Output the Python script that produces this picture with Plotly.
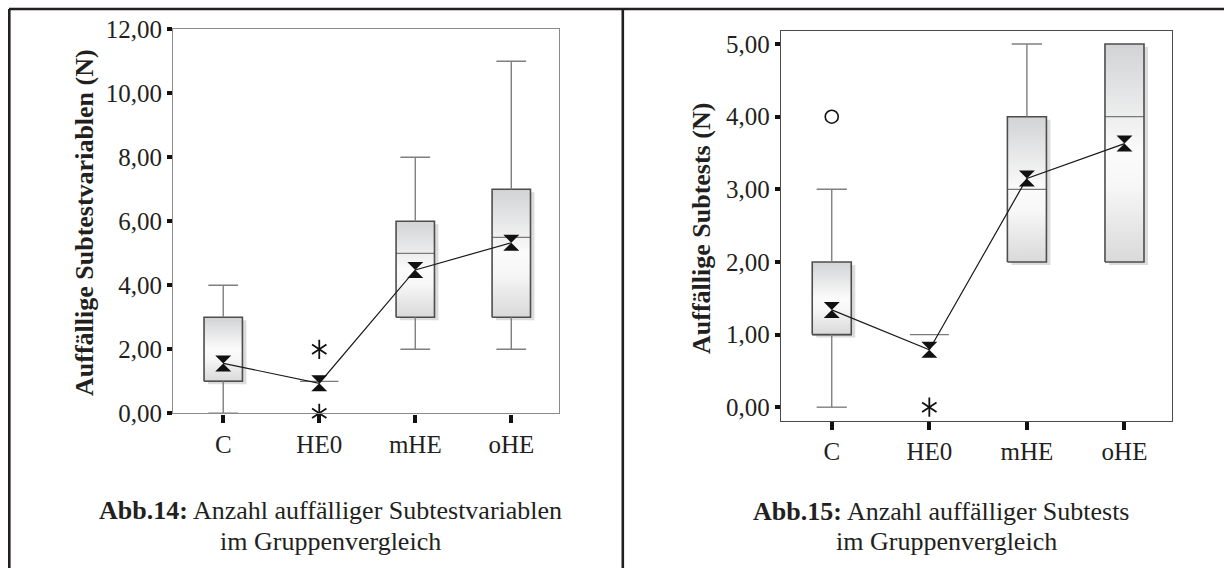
import plotly.graph_objects as go

# ---------------- data ----------------
categories = ["C", "HE0", "mHE", "oHE"]

# Abb.14: Anzahl auffälliger Subtestvariablen
l_q1 = [1, 1, 3, 3]
l_median = [1, 1, 5, 5.5]
l_q3 = [3, 1, 6, 7]
l_low = [0, 1, 2, 2]
l_high = [4, 1, 8, 11]
l_mean = [1.56, 0.94, 4.48, 5.33]
l_extreme_x = [1, 1]
l_extreme_y = [2, 0]

# Abb.15: Anzahl auffälliger Subtests
r_q1 = [1, 1, 2, 2]
r_median = [1, 1, 3, 4]
r_q3 = [2, 1, 4, 5]
r_low = [0, 1, 2, 2]
r_high = [3, 1, 5, 5]
r_mean = [1.34, 0.79, 3.15, 3.63]
r_outlier_x = [0]
r_outlier_y = [4]
r_extreme_x = [1]
r_extreme_y = [0]

l_yticks = [0, 2, 4, 6, 8, 10, 12]
r_yticks = [0, 1, 2, 3, 4, 5]

# ---------------- style ----------------
W, H = 1224, 568
FONT = "Liberation Serif"
TXT = "#231f20"
BOX_HALF = 0.2
CAP_HALF = 0.155

fig = go.Figure()

L = dict(dom_x=(173.3 / W, 559.3 / W), dom_y=(1 - 413.3 / H, 1 - 29.3 / H),
         xr=[-0.52, 3.5], yr=[0, 12], frame="#8a8a8a")
R = dict(dom_x=(781 / W, 1172.3 / W), dom_y=(1 - 421 / H, 1 - 31 / H),
         xr=[-0.52, 3.49], yr=[-0.19, 5.18], frame="#4a4a4a")

grad = [[0, "#d9d9da"], [0.35, "#f7f7f7"], [0.5, "#fbfbfb"], [1, "#d2d3d5"]]


def add_panel(xa, ya, spec, q1, med, q3, low, high, mean):
    # pixel-based shadow offsets converted to data units
    px_x = (spec["dom_x"][1] - spec["dom_x"][0]) * W / (spec["xr"][1] - spec["xr"][0])
    px_y = (spec["dom_y"][1] - spec["dom_y"][0]) * H / (spec["yr"][1] - spec["yr"][0])
    dx, dy = 4 / px_x, 3 / px_y
    common = dict(xaxis=xa, yaxis=ya, showlegend=False, hoverinfo="skip", cliponaxis=False)
    for i in range(len(categories)):
        a, b = i - BOX_HALF, i + BOX_HALF
        if q3[i] > q1[i]:
            # shadow
            fig.add_trace(go.Scatter(
                x=[a + dx, b + dx, b + dx, a + dx, a + dx],
                y=[q1[i] - dy, q1[i] - dy, q3[i] - dy, q3[i] - dy, q1[i] - dy],
                mode="lines", fill="toself", fillcolor="#dcdcdc",
                line=dict(width=0), **common))
            # gradient box
            fig.add_trace(go.Scatter(
                x=[a, b, b, a, a], y=[q1[i], q1[i], q3[i], q3[i], q1[i]],
                mode="lines", fill="toself",
                fillgradient=dict(type="vertical", colorscale=grad),
                line=dict(width=0), **common))
            # median
            fig.add_trace(go.Scatter(
                x=[a, b], y=[med[i], med[i]], mode="lines",
                line=dict(color="#7a7a7a", width=1.2), **common))
            # outline
            fig.add_trace(go.Scatter(
                x=[a, b, b, a, a], y=[q1[i], q1[i], q3[i], q3[i], q1[i]],
                mode="lines", line=dict(color="#4d4d4d", width=1.6), **common))
        else:
            fig.add_trace(go.Scatter(
                x=[a, b], y=[q1[i], q1[i]], mode="lines",
                line=dict(color="#7a7a7a", width=1.3), **common))
        # whiskers + caps
        if high[i] > q3[i]:
            fig.add_trace(go.Scatter(
                x=[i, i, None, i - CAP_HALF, i + CAP_HALF],
                y=[q3[i], high[i], None, high[i], high[i]],
                mode="lines", line=dict(color="#7f7f7f", width=1.4), **common))
        if low[i] < q1[i]:
            fig.add_trace(go.Scatter(
                x=[i, i, None, i - CAP_HALF, i + CAP_HALF],
                y=[q1[i], low[i], None, low[i], low[i]],
                mode="lines", line=dict(color="#7f7f7f", width=1.4), **common))
    # means
    fig.add_trace(go.Scatter(
        x=list(range(len(categories))), y=mean, mode="lines+markers",
        line=dict(color="#1a1a1a", width=1.2),
        marker=dict(symbol="hourglass", size=16, color="#111111",
                    line=dict(width=0)),
        **common))


def add_asterisks(xa, ya, xs, ys):
    for sym in ["y-up-open", "y-down-open"]:
        fig.add_trace(go.Scatter(
            x=xs, y=ys, mode="markers", xaxis=xa, yaxis=ya, showlegend=False,
            hoverinfo="skip", cliponaxis=False,
            marker=dict(symbol=sym, size=12, color="#111111",
                        line=dict(color="#111111", width=1.8))))


add_panel("x", "y", L, l_q1, l_median, l_q3, l_low, l_high, l_mean)
add_asterisks("x", "y", l_extreme_x, l_extreme_y)

add_panel("x2", "y2", R, r_q1, r_median, r_q3, r_low, r_high, r_mean)
add_asterisks("x2", "y2", r_extreme_x, r_extreme_y)
fig.add_trace(go.Scatter(
    x=r_outlier_x, y=r_outlier_y, mode="markers", xaxis="x2", yaxis="y2",
    showlegend=False, hoverinfo="skip", cliponaxis=False,
    marker=dict(symbol="circle-open", size=13, color="#111111",
                line=dict(color="#111111", width=1.6))))


def xaxis(spec, anchor):
    return dict(domain=list(spec["dom_x"]), range=spec["xr"], tickmode="array",
                tickvals=list(range(len(categories))), ticktext=categories,
                anchor=anchor, automargin=False,
                showgrid=False, zeroline=False, showline=True, mirror=True,
                linecolor=spec["frame"], linewidth=1.4,
                ticks="outside", ticklen=8, tickwidth=4, tickcolor="#111111",
                tickfont=dict(family=FONT, size=25, color=TXT), fixedrange=True)


def yaxis(spec, ticks, anchor):
    return dict(domain=list(spec["dom_y"]), range=spec["yr"], tickmode="array",
                tickvals=ticks, tickformat=".2f", anchor=anchor, automargin=False,
                showgrid=False, zeroline=False, showline=True, mirror=True,
                linecolor=spec["frame"], linewidth=1.4,
                ticks="outside", ticklen=5, tickwidth=4, tickcolor="#111111",
                tickfont=dict(family=FONT, size=25, color=TXT), fixedrange=True)


shapes = []
for (x0, y0, x1, y1) in [(9, 9, W, 9), (9.3, 9, 9.3, H), (622.8, 9, 622.8, H)]:
    shapes.append(dict(type="line", xref="paper", yref="paper",
                       x0=x0 / W, x1=x1 / W, y0=1 - y0 / H, y1=1 - y1 / H,
                       line=dict(color=TXT, width=2.6)))


def ann(x, y, text, size, angle=0):
    return dict(x=x / W, y=1 - y / H, xref="paper", yref="paper", text=text,
                showarrow=False, xanchor="center", yanchor="middle",
                textangle=angle, font=dict(family=FONT, size=size, color=TXT))


annotations = [
    ann(84, 223, "<b>Auffällige Subtestvariablen (N)</b>", 26, -90),
    ann(702, 229, "<b>Auffällige Subtests (N)</b>", 26, -90),
    ann(330, 510, "<b>Abb.14:</b> Anzahl auffälliger Subtestvariablen", 26),
    ann(330, 541.7, "im Gruppenvergleich", 26),
    ann(941, 511.7, "<b>Abb.15:</b> Anzahl auffälliger Subtests", 26),
    ann(946, 541.7, "im Gruppenvergleich", 26),
]

fig.update_layout(
    width=W, height=H, autosize=False,
    margin=dict(l=0, r=0, t=0, b=0, pad=0, autoexpand=False),
    paper_bgcolor="white", plot_bgcolor="white", separators=",.",
    xaxis=xaxis(L, "y"), yaxis=yaxis(L, l_yticks, "x"),
    xaxis2=xaxis(R, "y2"), yaxis2=yaxis(R, r_yticks, "x2"),
    shapes=shapes, annotations=annotations, showlegend=False,
)

fig.write_html("out.html", config={"responsive": False, "displayModeBar": False})
